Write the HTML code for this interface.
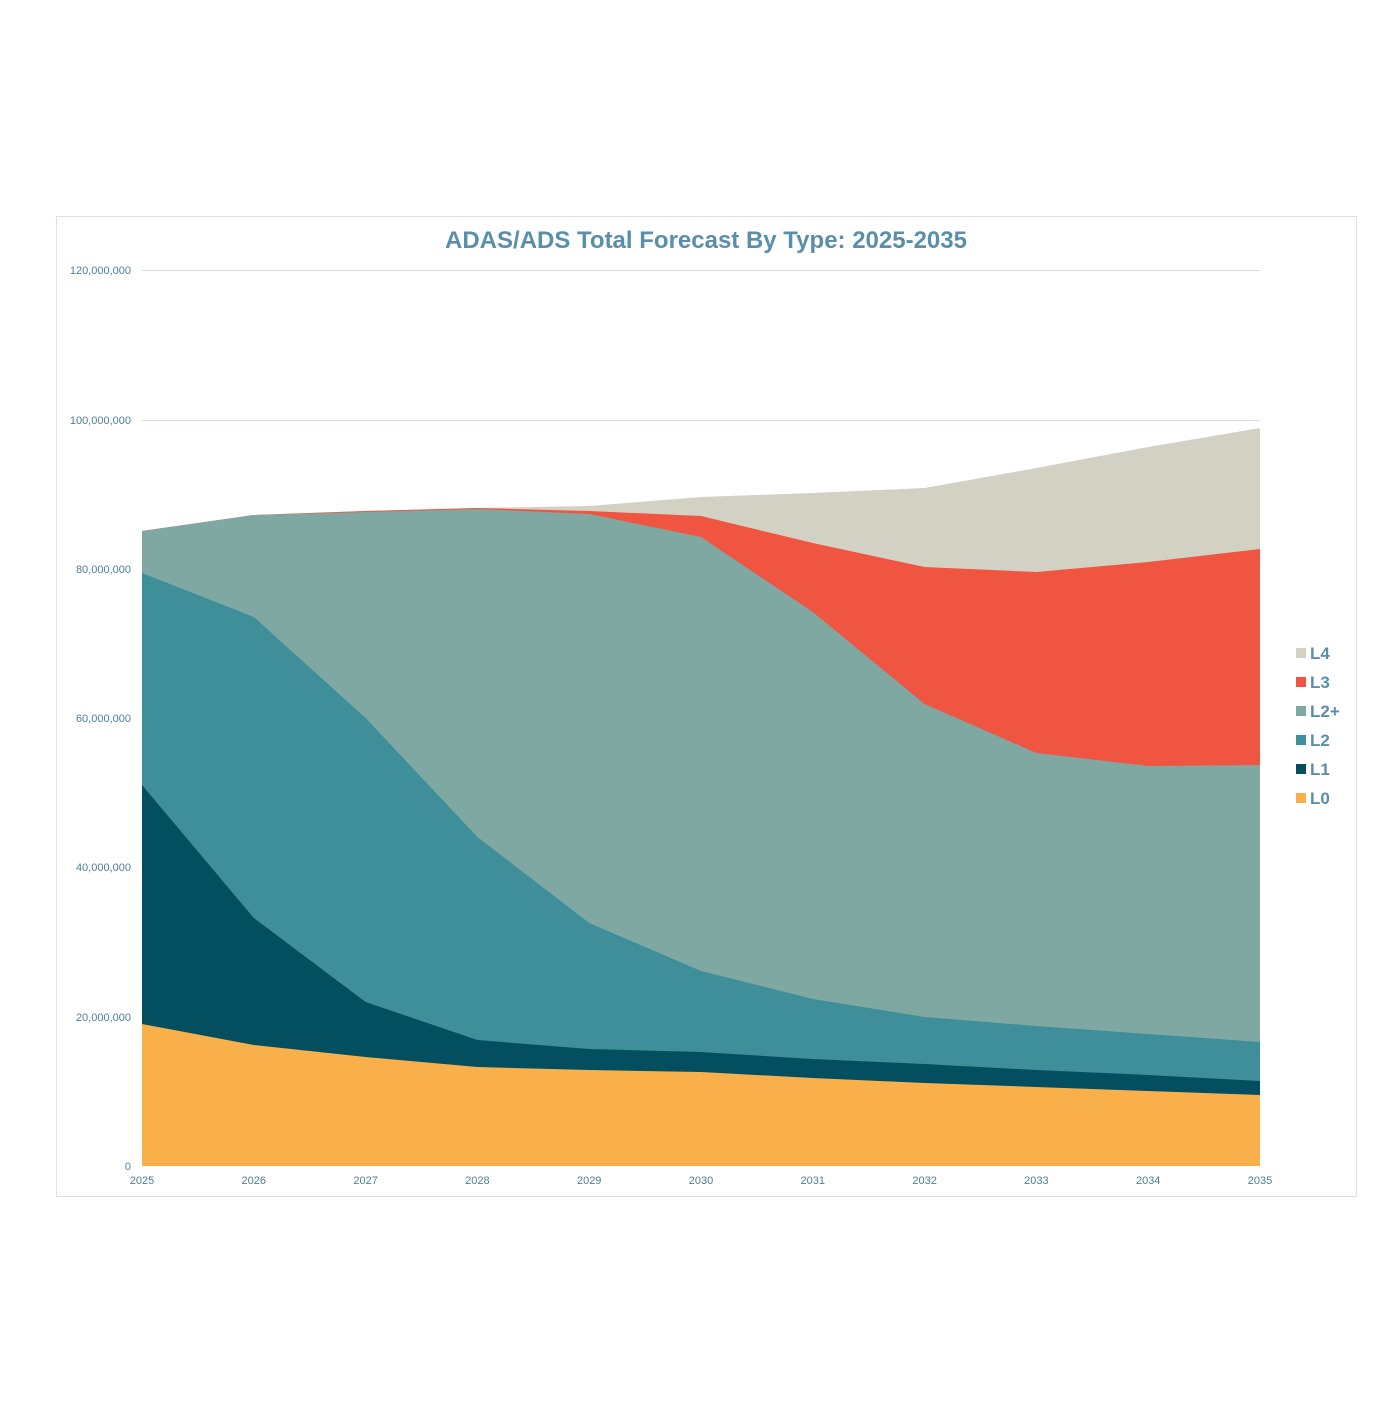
<!DOCTYPE html>
<html><head><meta charset="utf-8"><style>
html,body{margin:0;padding:0;background:#fff;}
svg text{font-family:"Liberation Sans",Arial,sans-serif;}
</style></head><body>
<svg width="1400" height="1400" viewBox="0 0 1400 1400" xmlns="http://www.w3.org/2000/svg">
<rect x="0" y="0" width="1400" height="1400" fill="#fff"/>
<rect x="56.5" y="216.5" width="1300" height="980" fill="#fff" stroke="#d6e4e7" stroke-width="1"/>
<text x="706" y="248" text-anchor="middle" font-size="24" font-weight="bold" fill="#5a8fa9">ADAS/ADS Total Forecast By Type: 2025-2035</text>
<g stroke="#d3dfe3" stroke-width="1">
<line x1="142" y1="270.5" x2="1260" y2="270.5"/>
<line x1="142" y1="420.5" x2="1260" y2="420.5"/>
<line x1="142" y1="569.5" x2="1260" y2="569.5"/>
<line x1="142" y1="718.5" x2="1260" y2="718.5"/>
<line x1="142" y1="867.5" x2="1260" y2="867.5"/>
<line x1="142" y1="1017.5" x2="1260" y2="1017.5"/>
</g>
<g font-size="11" fill="#4a7f9a" text-anchor="end">
<text x="131" y="274">120,000,000</text>
<text x="131" y="424">100,000,000</text>
<text x="131" y="573">80,000,000</text>
<text x="131" y="722">60,000,000</text>
<text x="131" y="871">40,000,000</text>
<text x="131" y="1021">20,000,000</text>
<text x="131" y="1170">0</text>
</g>
<polygon fill="#d3d1c4" points="142,531 253.8,515 365.6,511 477.4,508 589.2,506 701,497 812.8,493 924.6,488 1036.4,468 1148.2,447 1260,428 1260,1166 142,1166"/>
<polygon fill="#f05541" points="142,531 253.8,515 365.6,511 477.4,508 589.2,511 701,516 812.8,543 924.6,567 1036.4,572 1148.2,562 1260,549 1260,1166 142,1166"/>
<polygon fill="#7fa8a2" points="142,531 253.8,515 365.6,512 477.4,509 589.2,514 701,537 812.8,612 924.6,704 1036.4,753 1148.2,766 1260,765 1260,1166 142,1166"/>
<polygon fill="#3f8f9b" points="142,573 253.8,617 365.6,718 477.4,837 589.2,923 701,971 812.8,999 924.6,1017 1036.4,1026 1148.2,1034 1260,1042 1260,1166 142,1166"/>
<polygon fill="#034f60" points="142,785 253.8,918 365.6,1002 477.4,1040 589.2,1049 701,1052 812.8,1059 924.6,1064 1036.4,1070 1148.2,1075 1260,1081 1260,1166 142,1166"/>
<polygon fill="#f9b04b" points="142,1024 253.8,1045 365.6,1057 477.4,1067 589.2,1070 701,1072 812.8,1078 924.6,1083 1036.4,1087 1148.2,1091 1260,1095 1260,1166 142,1166"/>
<g font-size="11" fill="#4a7f9a" text-anchor="middle">
<text x="142" y="1184">2025</text>
<text x="253.8" y="1184">2026</text>
<text x="365.6" y="1184">2027</text>
<text x="477.4" y="1184">2028</text>
<text x="589.2" y="1184">2029</text>
<text x="701" y="1184">2030</text>
<text x="812.8" y="1184">2031</text>
<text x="924.6" y="1184">2032</text>
<text x="1036.4" y="1184">2033</text>
<text x="1148.2" y="1184">2034</text>
<text x="1260" y="1184">2035</text>
</g>
<g font-size="17" font-weight="bold" fill="#5a8fa9">
<rect x="1296" y="648" width="10" height="10" fill="#d3d1c4"/><text x="1310" y="659">L4</text>
<rect x="1296" y="677" width="10" height="10" fill="#f05541"/><text x="1310" y="688">L3</text>
<rect x="1296" y="706" width="10" height="10" fill="#7fa8a2"/><text x="1310" y="717">L2+</text>
<rect x="1296" y="735" width="10" height="10" fill="#3f8f9b"/><text x="1310" y="746">L2</text>
<rect x="1296" y="764" width="10" height="10" fill="#034f60"/><text x="1310" y="775">L1</text>
<rect x="1296" y="793" width="10" height="10" fill="#f9b04b"/><text x="1310" y="804">L0</text>
</g>
</svg>
</body></html>
